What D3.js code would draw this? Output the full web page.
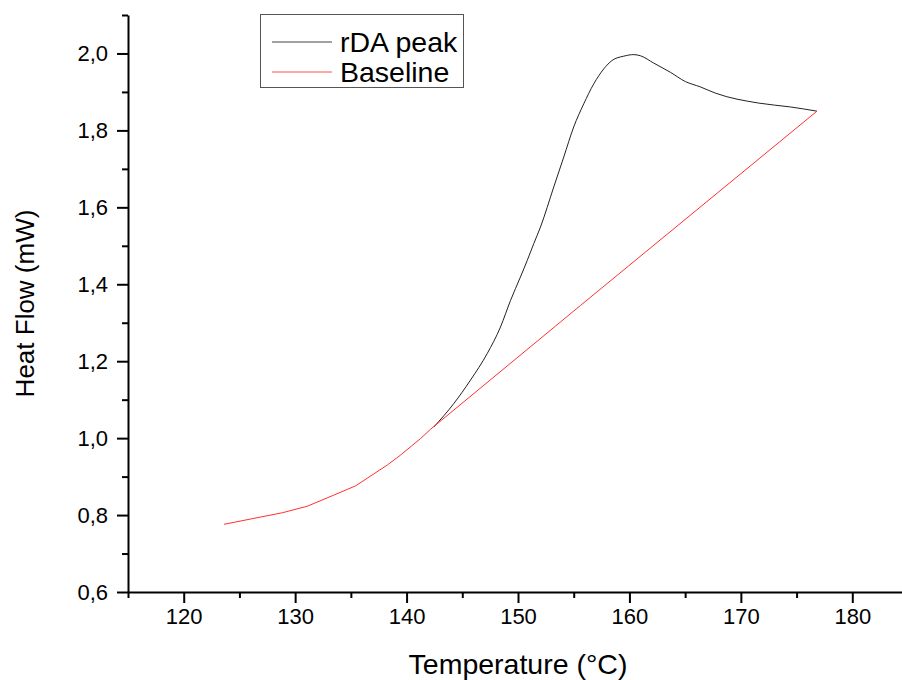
<!DOCTYPE html>
<html>
<head>
<meta charset="utf-8">
<script src="https://cdn.jsdelivr.net/npm/d3@7"></script>
<style>
  html, body { margin: 0; padding: 0; background: #fff; }
  svg { display: block; }
  text { font-family: Arial, "Liberation Sans", sans-serif; fill: #000; }
</style>
</head>
<body>
<svg id="chart" width="902" height="680"></svg>
<script>
// ---- Data ----
const peakT = [142.45,144.24,145.74,147.24,148.43,149.33,150.22,150.83,151.42,152.02,153.21,154.11,155.00,155.90,156.80,157.70,158.45,159.49,160.39,160.99,162.18,163.68,165.02,166.37,167.71,171.60,174.44,176.83];
const peakV = [1.029,1.090,1.151,1.220,1.289,1.358,1.419,1.462,1.506,1.549,1.653,1.731,1.809,1.869,1.921,1.960,1.982,1.993,1.997,1.994,1.975,1.951,1.927,1.913,1.897,1.871,1.861,1.850];
const baseT = [123.61,128.85,131.09,133.48,135.43,138.27,139.46,141.26,142.15,155.61,176.83];
const baseV = [0.776,0.806,0.823,0.852,0.876,0.930,0.956,0.999,1.023,1.345,1.850];
const xTicks = [120,130,140,150,160,170,180];
const xMinorTicks = [115,125,135,145,155,165,175,185];
const yTicks = [0.6,0.8,1.0,1.2,1.4,1.6,1.8,2.0];
const yMinorTicks = [0.7,0.9,1.1,1.3,1.5,1.7,1.9,2.1];
const seriesNames = ["rDA peak","Baseline"];
const xTitle = "Temperature (°C)";
const yTitle = "Heat Flow  (mW)";

(function () {
// ---- Layout ----
const svg = d3.select("#chart");
const mLeft = 128, mRight = 908, mTop = 15, mBottom = 592;
const x = d3.scaleLinear().domain([115,185]).range([mLeft,mRight]);
const y = d3.scaleLinear().domain([0.6,2.1]).range([mBottom,mTop]);

const fmtY = v => d3.format(".1f")(v).replace(".", ",");

// curves
const line = d3.line().x(d => x(d[0])).y(d => y(d[1])).curve(d3.curveMonotoneX);
const peakData = peakT.map((t,i) => [t, peakV[i]]);
const baseData = baseT.map((t,i) => [t, baseV[i]]);

svg.append("path").datum(peakData).attr("d", line)
  .attr("fill","none").attr("stroke","#222").attr("stroke-width",1);
svg.append("path").datum(baseData).attr("d", d3.line().x(d => x(d[0])).y(d => y(d[1])))
  .attr("fill","none").attr("stroke","#ff3030").attr("stroke-width",1);

// axes
const gx = svg.append("g").attr("transform",`translate(0,${mBottom})`);
gx.call(d3.axisBottom(x).tickValues(xTicks).tickSize(11).tickSizeOuter(0).tickPadding(5).tickFormat(d3.format("d")));
const gxm = svg.append("g").attr("transform",`translate(0,${mBottom})`);
gxm.call(d3.axisBottom(x).tickValues(xMinorTicks).tickSize(6).tickSizeOuter(0).tickFormat(""));
gxm.select(".domain").remove();

const gy = svg.append("g").attr("transform",`translate(${mLeft},0)`);
gy.call(d3.axisLeft(y).tickValues(yTicks).tickSize(11).tickSizeOuter(0).tickPadding(9).tickFormat(fmtY));
const gym = svg.append("g").attr("transform",`translate(${mLeft},0)`);
gym.call(d3.axisLeft(y).tickValues(yMinorTicks).tickSize(6).tickSizeOuter(0).tickFormat(""));
gym.select(".domain").remove();

svg.selectAll(".domain, .tick line").attr("stroke","#000").attr("stroke-width",2);
svg.selectAll(".tick text").attr("font-size",22).attr("fill","#000")
  .attr("font-family","Arial, 'Liberation Sans', sans-serif");

// titles
svg.append("text").attr("x",(mLeft+mRight)/2).attr("y",674).attr("text-anchor","middle")
  .attr("font-size",28.5).text(xTitle);
svg.append("text").attr("transform",`translate(34,${(mTop+mBottom)/2}) rotate(-90)`)
  .attr("text-anchor","middle").attr("font-size",26).text(yTitle);

// legend
const lg = svg.append("g");
lg.append("rect").attr("x",260.5).attr("y",14.5).attr("width",203).attr("height",73)
  .attr("fill","#fff").attr("stroke","#555").attr("stroke-width",1);
const legColors = ["#444","#ff5050"];
seriesNames.forEach((n,i) => {
  const yy = 42 + i*30;
  lg.append("line").attr("x1",272).attr("x2",332).attr("y1",yy).attr("y2",yy)
    .attr("stroke",legColors[i]).attr("stroke-width",1);
  lg.append("text").attr("x",340).attr("y",yy+10).attr("font-size",28.5).text(n);
});
})();
</script>
</body>
</html>
